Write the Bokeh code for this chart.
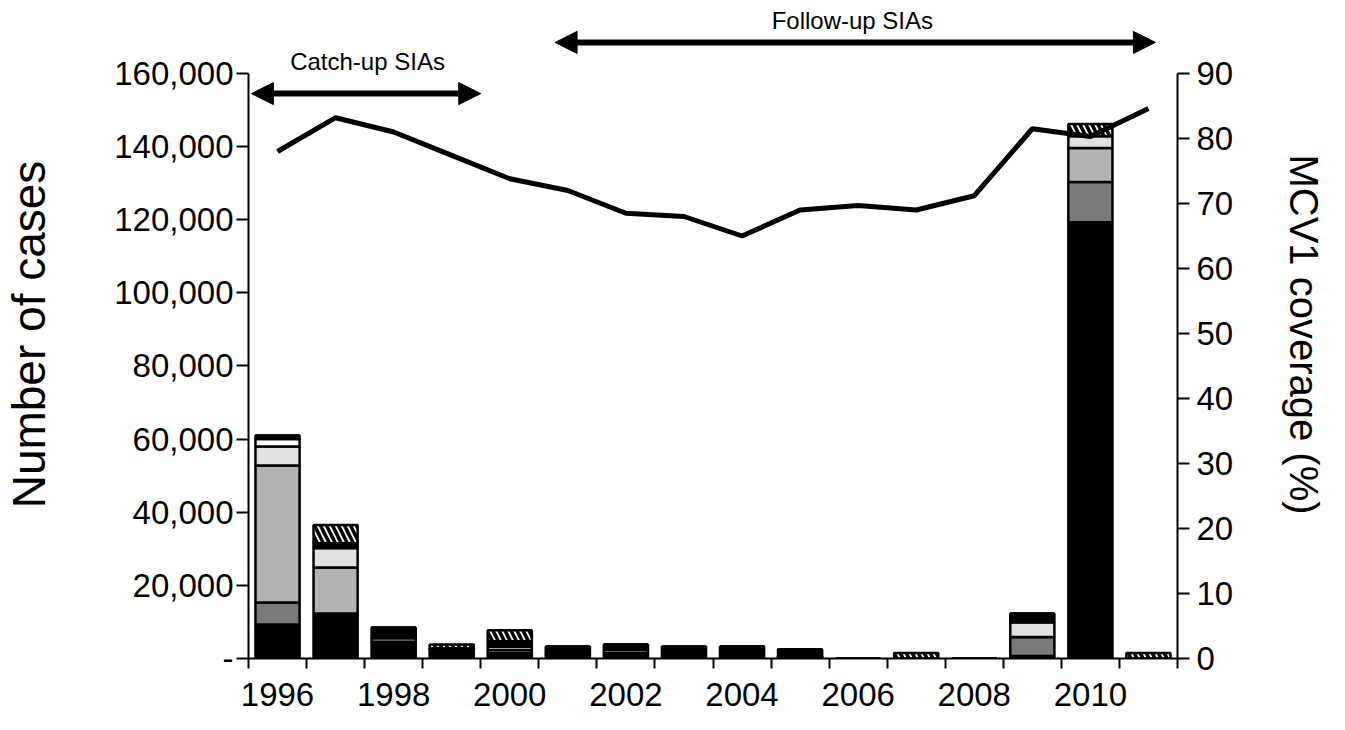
from bokeh.plotting import figure
from bokeh.models import (Range1d, LinearAxis, FixedTicker, Arrow, NormalHead, Label,
                          ColumnDataSource)
from bokeh.embed import file_html
from bokeh.resources import INLINE

years = list(range(1996, 2012))
# stacked case counts (bottom to top)
seg_black   = [9300, 12300, 4600, 1500, 1500, 800, 800, 800, 3300, 600, 0, 0, 0, 700, 119300, 0]
seg_dark    = [6000, 0, 0, 0, 0, 0, 0, 0, 0, 0, 0, 0, 0, 5200, 11000, 0]
seg_medium  = [37500, 12600, 1000, 700, 800, 700, 700, 700, 0, 600, 0, 0, 0, 0, 9300, 0]
seg_light   = [5200, 5300, 0, 0, 900, 0, 0, 0, 0, 0, 0, 0, 0, 4000, 3300, 0]
seg_white   = [2000, 0, 0, 600, 0, 0, 800, 0, 0, 0, 0, 0, 0, 0, 0, 0]
seg_top     = [1000, 1300, 2900, 0, 1500, 1800, 1500, 1800, 0, 1300, 0, 0, 0, 2400, 0, 0]
seg_hatched = [0, 5000, 0, 1000, 3000, 0, 0, 0, 0, 0, 0, 1500, 0, 0, 3300, 1500]
coverage = [78, 83.2, 81, 77.4, 73.8, 72, 68.5, 68, 65, 69, 69.7, 69, 71.2, 81.5, 80.3, 84.6]

y_ticks = [0, 20000, 40000, 60000, 80000, 100000, 120000, 140000, 160000]
cov_ticks = [0, 10, 20, 30, 40, 50, 60, 70, 80, 90]

names = ["seg_black", "seg_dark", "seg_medium", "seg_light", "seg_white", "seg_top", "seg_hatched"]
fills = ["#000000", "#7a7a7a", "#b3b3b3", "#e2e2e2", "#ffffff", "#000000", "#ffffff"]
hatches = [" ", " ", " ", " ", " ", " ", "\\"]

src = ColumnDataSource(dict(year=years, seg_black=seg_black, seg_dark=seg_dark,
                            seg_medium=seg_medium, seg_light=seg_light, seg_white=seg_white,
                            seg_top=seg_top, seg_hatched=seg_hatched, coverage=coverage))

FONT = "Liberation Sans"
ymax = 177230
p = figure(width=1329, height=714, output_backend="svg", toolbar_location=None,
           x_range=Range1d(1995.5, 2011.5), y_range=Range1d(0, ymax),
           min_border_left=242, min_border_right=149, min_border_top=10, min_border_bottom=56)
p.extra_y_ranges = {"cov": Range1d(0, ymax / 160000 * 90)}
p.xgrid.visible = False
p.ygrid.visible = False
p.outline_line_color = None
p.background_fill_color = "white"

p.vbar_stack(names, x="year", width=0.76, source=src, fill_color=fills,
             line_color="black", line_width=2.5, hatch_pattern=hatches,
             hatch_color="black", hatch_scale=12, hatch_weight=3.5)

p.line("year", "coverage", source=src, y_range_name="cov", line_color="black", line_width=5)

# x axis
xa = p.xaxis[0]
xa.ticker = FixedTicker(ticks=years, minor_ticks=[1995.5 + i for i in range(17)])
xa.major_label_overrides = {y: (str(y) if y % 2 == 0 else "") for y in years}
xa.major_tick_out = 0
xa.major_tick_in = 0
xa.minor_tick_out = 10
xa.minor_tick_in = 0
xa.minor_tick_line_width = 2
xa.axis_line_width = 2
xa.major_label_text_font = FONT
xa.major_label_text_font_size = "33px"
xa.major_label_text_color = "black"
xa.major_label_standoff = 14

# left axis
ya = p.yaxis[0]
ya.ticker = FixedTicker(ticks=y_ticks)
ya.major_label_overrides = {t: ("-" if t == 0 else f"{t:,}") for t in y_ticks}
ya.bounds = (0, 160000)
ya.major_tick_out = 12
ya.major_tick_in = 0
ya.minor_tick_out = 0
ya.minor_tick_in = 0
ya.major_tick_line_width = 2
ya.axis_line_width = 2
ya.major_label_text_font = FONT
ya.major_label_text_font_size = "33px"
ya.major_label_text_color = "black"
ya.major_label_standoff = 3
ya.axis_label = "Number of cases"
ya.axis_label_text_font = FONT
ya.axis_label_text_font_size = "46px"
ya.axis_label_text_font_style = "normal"
ya.axis_label_text_color = "black"
ya.axis_label_standoff = 56

# right axis
ra = LinearAxis(y_range_name="cov", ticker=FixedTicker(ticks=cov_ticks), bounds=(0, 90))
ra.major_tick_out = 12
ra.major_tick_in = 0
ra.minor_tick_out = 0
ra.minor_tick_in = 0
ra.major_tick_line_width = 2
ra.axis_line_width = 2
ra.major_label_text_font = FONT
ra.major_label_text_font_size = "33px"
ra.major_label_text_color = "black"
ra.major_label_standoff = 7
ra.axis_label = "MCV1 coverage (%)"
ra.axis_label_text_font = FONT
ra.axis_label_text_font_size = "40px"
ra.axis_label_text_font_style = "normal"
ra.axis_label_text_color = "black"
ra.axis_label_standoff = 46
p.add_layout(ra, "right")

# SIA arrows
catch_x = [1995.55, 1999.5]
catch_y = 154500
follow_x = [2000.78, 2011.12]
follow_y = 168500
for xs, yv in [(catch_x, catch_y), (follow_x, follow_y)]:
    p.add_layout(Arrow(x_start=xs[0], y_start=yv, x_end=xs[1], y_end=yv, line_width=6,
                       line_color="black",
                       start=NormalHead(size=22, fill_color="black", line_color="black"),
                       end=NormalHead(size=22, fill_color="black", line_color="black")))

p.add_layout(Label(x=1997.55, y=163200, text="Catch-up SIAs", text_align="center",
                   text_baseline="middle", text_font=FONT, text_font_size="24px",
                   text_color="black"))
p.add_layout(Label(x=2005.9, y=174500, text="Follow-up SIAs", text_align="center",
                   text_baseline="middle", text_font=FONT, text_font_size="24px",
                   text_color="black"))

open("out.html", "w").write(file_html(p, INLINE))
